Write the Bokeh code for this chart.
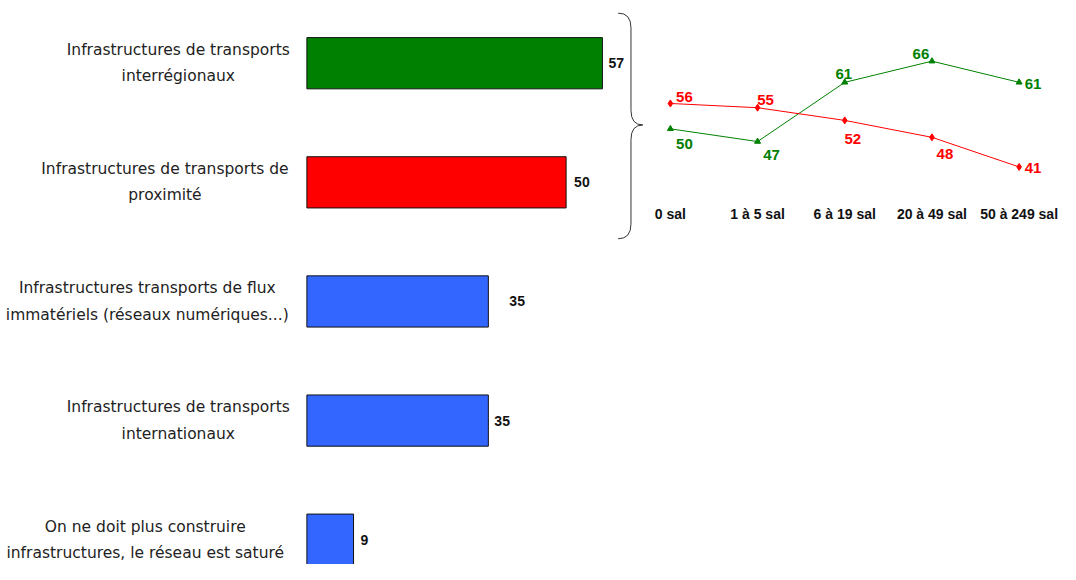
from bokeh.plotting import figure
from bokeh.models import Range1d, ColumnDataSource
from bokeh.core.properties import value
from bokeh.embed import file_html
from bokeh.resources import INLINE

# ---------------- data ----------------
categories = [
    "Infrastructures de transports\ninterrégionaux",
    "Infrastructures de transports de\nproximité",
    "Infrastructures transports de flux\nimmatériels (réseaux numériques...)",
    "Infrastructures de transports\ninternationaux",
    "On ne doit plus construire\ninfrastructures, le réseau est saturé",
]
values = [57, 50, 35, 35, 9]
bar_colors = ["#008000", "#FF0000", "#3366FF", "#3366FF", "#3366FF"]

sizes = ["0 sal", "1 à 5 sal", "6 à 19 sal", "20 à 49 sal", "50 à 249 sal"]
interregionaux = [50, 47, 61, 66, 61]
proximite = [56, 55, 52, 48, 41]

# ---------------- layout / style ----------------
W, H = 1060, 564
SX, SY = W / 1076.0, H / 580.0          # design grid -> figure pixels

bar_px = 300 * SX / 57.0       # px per percentage point (bars)
bar_x0 = 311 * SX              # px where bars start
cat_px = 122.5 * SY            # px between bar centres
cat0_y = 64.5 * SY             # px of first bar centre
line_px_x = 88.5 * SX          # px between line-chart categories
line_x0 = 680 * SX             # px of first line category
line_px_y = 4.35 * SY          # px per point (line chart)
line_y50 = 132 * SY            # px of value 50 (line chart)

label_center_dx = [-128.6, -141.9, -159.6, -128.6, -161.6]
value_dx = [6, 8, 21, 6, 7]
green_off = [(14, 15), (14, 13), (-1, -8), (-11, -7), (14, 2)]
red_off = [(14, -6), (8, -8), (8, 19), (13, 17), (14, 1)]

x_start = -bar_x0 / bar_px
y_top = -cat0_y / cat_px
y_bot = (H - cat0_y) / cat_px

p = figure(width=W, height=H, output_backend="svg", toolbar_location=None,
           x_range=Range1d(x_start, x_start + W / bar_px),
           y_range=Range1d(y_bot, y_top),
           x_axis_type=None, y_axis_type=None,
           min_border=0, min_border_left=0, min_border_right=0,
           min_border_top=0, min_border_bottom=0,
           outline_line_color=None, background_fill_color="white",
           border_fill_color="white")

lx_start = -line_x0 / line_px_x
ly_top = 50 + line_y50 / line_px_y
ly_bot = 50 - (H - line_y50) / line_px_y
p.extra_x_ranges = {"lx": Range1d(lx_start, lx_start + W / line_px_x)}
p.extra_y_ranges = {"ly": Range1d(ly_bot, ly_top)}

# ---------------- bars ----------------
idx = list(range(len(values)))
src = ColumnDataSource(dict(y=idx, v=values, c=bar_colors, cat=categories,
                            lab=[str(v) for v in values],
                            ldx=label_center_dx, vdx=value_dx,
                            zero=[0] * len(values)))
p.hbar(y="y", right="v", left=0, height=0.43, fill_color="c",
       line_color="#111111", line_width=1, source=src)

p.text(x="zero", y="y", text="cat", x_offset="ldx", source=src,
       text_align="center", text_baseline="middle",
       text_font=value("DejaVu Sans"), text_font_size="15.5px",
       text_line_height=1.46, text_color="#222222")

p.text(x="v", y="y", text="lab", x_offset="vdx", source=src,
       text_align="left", text_baseline="middle",
       text_font=value("Liberation Sans"), text_font_style="bold",
       text_font_size="14px", text_color="#111111")

# ---------------- brace ----------------
bx = lambda r: (r * SX - bar_x0) / bar_px
by = lambda r: (r * SY - cat0_y) / cat_px
brace_col = "#333333"
p.quadratic(x0=[bx(627), bx(640), bx(652), bx(640)],
            y0=[by(13), by(113), by(128), by(230)],
            x1=[bx(640), bx(652), bx(640), bx(627)],
            y1=[by(28), by(128), by(143), by(245)],
            cx=[bx(640), bx(640), bx(640), bx(640)],
            cy=[by(13), by(128), by(128), by(245)],
            line_color=brace_col, line_width=1)
p.segment(x0=[bx(640), bx(640)], y0=[by(28), by(143)],
          x1=[bx(640), bx(640)], y1=[by(113), by(230)],
          line_color=brace_col, line_width=1)

# ---------------- line chart ----------------
li = list(range(len(sizes)))
p.line(li, interregionaux, x_range_name="lx", y_range_name="ly",
       line_color="#008000", line_width=1)
p.scatter(li, interregionaux, x_range_name="lx", y_range_name="ly",
          marker="triangle", size=6, fill_color="#008000", line_color="#008000")
p.line(li, proximite, x_range_name="lx", y_range_name="ly",
       line_color="#FF0000", line_width=1)
p.scatter(li, proximite, x_range_name="lx", y_range_name="ly",
          marker="diamond", size=7, fill_color="#FF0000", line_color="#FF0000")

gsrc = ColumnDataSource(dict(x=li, y=interregionaux, t=[str(v) for v in interregionaux],
                             dx=[o[0] for o in green_off], dy=[o[1] for o in green_off]))
rsrc = ColumnDataSource(dict(x=li, y=proximite, t=[str(v) for v in proximite],
                             dx=[o[0] for o in red_off], dy=[o[1] for o in red_off]))
for s, col in ((gsrc, "#008000"), (rsrc, "#FF0000")):
    p.text(x="x", y="y", text="t", x_offset="dx", y_offset="dy", source=s,
           x_range_name="lx", y_range_name="ly",
           text_align="center", text_baseline="middle",
           text_font=value("Liberation Sans"), text_font_style="bold",
           text_font_size="15px", text_color=col)

cat_label_y = 50 - (220 * SY - line_y50) / line_px_y
p.text(x=li, y=[cat_label_y] * len(li), text=sizes,
       x_range_name="lx", y_range_name="ly",
       text_align="center", text_baseline="middle",
       text_font=value("Liberation Sans"), text_font_style="bold",
       text_font_size="14px", text_color="#111111")

open("out.html", "w").write(file_html(p, INLINE))
